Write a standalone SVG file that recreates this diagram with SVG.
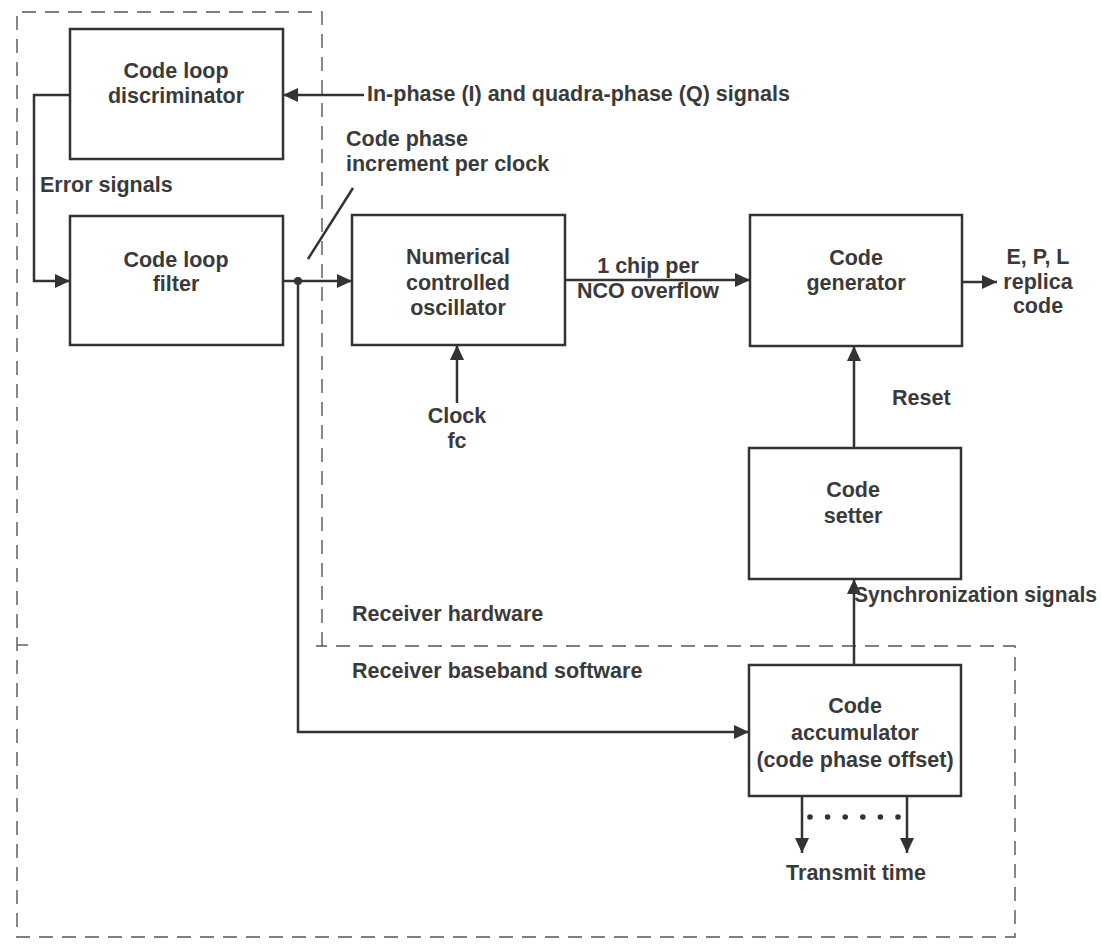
<svg xmlns="http://www.w3.org/2000/svg" width="1101" height="945" viewBox="0 0 1101 945">
  <defs>
    <marker id="arr" markerUnits="userSpaceOnUse" markerWidth="16" markerHeight="14" refX="15" refY="7" orient="auto">
      <path d="M0,0 L15,7 L0,14 z" fill="#333"/>
    </marker>
    <style>
      .box { fill: #fff; stroke: #333; stroke-width: 2.5; }
      .ln { fill: none; stroke: #333; stroke-width: 2.5; }
      .dash { fill: none; stroke: #555; stroke-width: 1.4; stroke-dasharray: 14 9; }
      text { font-family: "Liberation Sans", Arial, sans-serif; font-weight: bold; font-size: 21.5px; fill: #3a3a3a; }
      .c { text-anchor: middle; }
    </style>
  </defs>
  <rect width="1101" height="945" fill="#fff"/>

  <g id="regions">
    <path class="dash" d="M322,646 L322,12 L17,12 L17,937 L1015,937 L1015,646 L316,646"/>
    <path d="M17,645 L28,645" stroke="#555" stroke-width="1.4" fill="none"/>
    <text x="352" y="621">Receiver hardware</text>
    <text x="352" y="678">Receiver baseband software</text>
  </g>

  <g id="connectors">
    <line class="ln" x1="364" y1="95" x2="283" y2="95" marker-end="url(#arr)"/>
    <polyline class="ln" points="70,95 34,95 34,281 70,281" marker-end="url(#arr)"/>
    <line class="ln" x1="283" y1="281" x2="352" y2="281" marker-end="url(#arr)"/>
    <circle cx="298" cy="281" r="4" fill="#333"/>
    <polyline class="ln" points="298,281 298,732 749,732" marker-end="url(#arr)"/>
    <line class="ln" x1="353" y1="188" x2="308" y2="259" stroke-width="2"/>
    <line class="ln" x1="565" y1="280" x2="750" y2="280" marker-end="url(#arr)"/>
    <line class="ln" x1="457" y1="403" x2="457" y2="345" marker-end="url(#arr)"/>
    <line class="ln" x1="962" y1="282" x2="997" y2="282" marker-end="url(#arr)"/>
    <line class="ln" x1="854" y1="448" x2="854" y2="346" marker-end="url(#arr)"/>
    <line class="ln" x1="854" y1="665" x2="854" y2="579" marker-end="url(#arr)"/>
    <line class="ln" x1="802" y1="796" x2="802" y2="853" marker-end="url(#arr)"/>
    <line class="ln" x1="907" y1="796" x2="907" y2="853" marker-end="url(#arr)"/>
    <g fill="#333">
      <circle cx="810" cy="817" r="2.8"/>
      <circle cx="827.6" cy="817" r="2.8"/>
      <circle cx="845.2" cy="817" r="2.8"/>
      <circle cx="862.8" cy="817" r="2.8"/>
      <circle cx="880.4" cy="817" r="2.8"/>
      <circle cx="898" cy="817" r="2.8"/>
    </g>
    <text x="367" y="101">In-phase (I) and quadra-phase (Q) signals</text>
    <text x="40" y="192">Error signals</text>
    <text x="346" y="146">Code phase</text>
    <text x="346" y="171">increment per clock</text>
    <text class="c" x="648" y="273">1 chip per</text>
    <text class="c" x="648" y="298">NCO overflow</text>
    <text class="c" x="457" y="423">Clock</text>
    <text class="c" x="457" y="448">fc</text>
    <text class="c" x="1038" y="264">E, P, L</text>
    <text class="c" x="1038" y="289">replica</text>
    <text class="c" x="1038" y="313">code</text>
    <text x="892" y="405">Reset</text>
    <text x="854" y="602" textLength="243" lengthAdjust="spacingAndGlyphs">Synchronization signals</text>
    <text class="c" x="856" y="880">Transmit time</text>
  </g>

  <g id="discriminator">
    <rect class="box" x="70" y="29" width="213" height="130"/>
    <text class="c" x="176" y="78">Code loop</text>
    <text class="c" x="176" y="103">discriminator</text>
  </g>
  <g id="filter">
    <rect class="box" x="70" y="216" width="213" height="129"/>
    <text class="c" x="176" y="267">Code loop</text>
    <text class="c" x="176" y="291">filter</text>
  </g>
  <g id="nco">
    <rect class="box" x="352" y="215" width="213" height="130"/>
    <text class="c" x="458" y="264">Numerical</text>
    <text class="c" x="458" y="290">controlled</text>
    <text class="c" x="458" y="315">oscillator</text>
  </g>
  <g id="codegen">
    <rect class="box" x="750" y="215" width="212" height="131"/>
    <text class="c" x="856" y="265">Code</text>
    <text class="c" x="856" y="290">generator</text>
  </g>
  <g id="setter">
    <rect class="box" x="749" y="448" width="212" height="131"/>
    <text class="c" x="853" y="497">Code</text>
    <text class="c" x="853" y="523">setter</text>
  </g>
  <g id="accumulator">
    <rect class="box" x="749" y="665" width="212" height="131"/>
    <text class="c" x="855" y="713">Code</text>
    <text class="c" x="855" y="740">accumulator</text>
    <text class="c" x="855" y="767">(code phase offset)</text>
  </g>
</svg>
